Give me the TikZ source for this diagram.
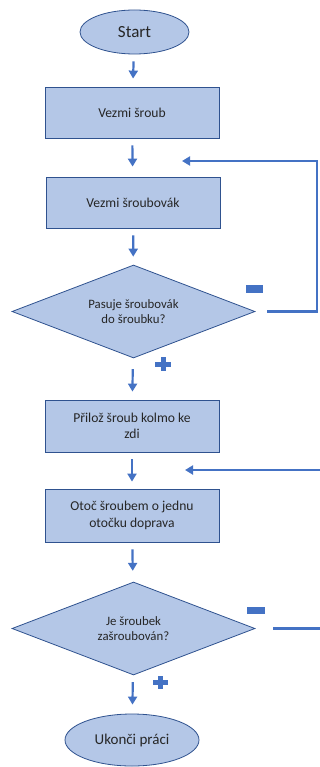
\documentclass[tikz,border=0pt]{standalone}
\usepackage{fontspec}
\setmainfont{Carlito}
\usetikzlibrary{shapes,arrows,arrows.meta}
\definecolor{boxfill}{HTML}{B4C7E7}
\definecolor{boxline}{HTML}{2F528F}
\definecolor{flowblue}{HTML}{4472C4}

\tikzset{
  block/.style={draw=boxline, fill=boxfill, line width=.8pt, rectangle,
    minimum width=174pt, minimum height=51pt, align=center,
    font=\fontsize{13.6}{16.5}\selectfont, text=black!85},
  decision/.style={draw=boxline, fill=boxfill, line width=.8pt, diamond,
    aspect=2.6, inner sep=0pt, minimum width=243pt, minimum height=93pt,
    align=center, font=\fontsize{12.8}{15.5}\selectfont, text=black!85},
  terminal/.style={draw=boxline, fill=boxfill, line width=.8pt, ellipse,
    inner sep=0pt, text=black!85},
  flow/.style={flowblue, line width=2.2pt, -{Triangle[length=8pt,width=9pt]},
    shorten <=7pt, shorten >=8pt},
  loop/.style={flowblue, line width=2.2pt, -{Triangle[length=8pt,width=9pt]}},
  sign/.style={fill=flowblue}
}

\begin{document}
\begin{tikzpicture}[x=1pt, y=-1pt]
        \useasboundingbox (0,0) rectangle (320,767);
        % uzly
        \node [terminal, minimum width=109pt, minimum height=44pt,
               font=\fontsize{17}{20}\selectfont] (start) at (134.5,32) {Start};
        \node [block] (sroub) at (132,112.5) {Vezmi šroub};
        \node [block] (sroubovak) at (133,202.5) {Vezmi šroubovák};
        \node [decision] (pasuje) at (133.5,311.5) {Pasuje šroubovák\\do šroubku?};
        \node [block, minimum height=52pt] (priloz) at (132,426) {Přilož šroub kolmo ke\\zdi};
        \node [block, minimum height=53pt] (otoc) at (132,515.5) {Otoč šroubem o jednu\\otočku doprava};
        \node [decision] (zasroubovan) at (133.5,628.5) {Je šroubek\\zašroubován?};
        \node [terminal, minimum width=134pt, minimum height=52pt,
               font=\fontsize{15}{18}\selectfont] (konec) at (132,740) {Ukonči práci};
        \coordinate (zpet1) at (182,161);
        \coordinate (zpet2) at (185,470);
        % sipky
        \draw [flow] (start) -- (sroub);
        \draw [flow, shorten >=10pt] (sroub) -- (sroubovak);
        \draw [flow] (sroubovak) -- (pasuje);
        \draw [flow, shorten <=11pt] (pasuje) -- (priloz);
        \draw [flow, shorten >=7pt] (priloz) -- (otoc);
        \draw [flow, shorten >=11pt] (otoc) -- (zasroubovan);
        \draw [flow, shorten >=9pt] (zasroubovan) -- (konec);
        \draw [loop, shorten <=12pt] (pasuje.east) -- (317,311.5) |- (zpet1);
        \begin{scope}
            \clip (0,0) rectangle (320,767);
            \draw [loop, shorten <=18pt] (zasroubovan.east) -- (330,628.5) |- (zpet2);
        \end{scope}
        % znamenka
        \fill [sign] (246,285) rectangle (263,293);
        \fill [sign] (247,607) rectangle (265,614);
        \fill [sign] (155,362) rectangle (171,366.5);
        \fill [sign] (160.5,357) rectangle (165.5,371);
        \fill [sign] (153,680) rectangle (168,684.5);
        \fill [sign] (158,676) rectangle (163,689);
    \end{tikzpicture}
\end{document}
